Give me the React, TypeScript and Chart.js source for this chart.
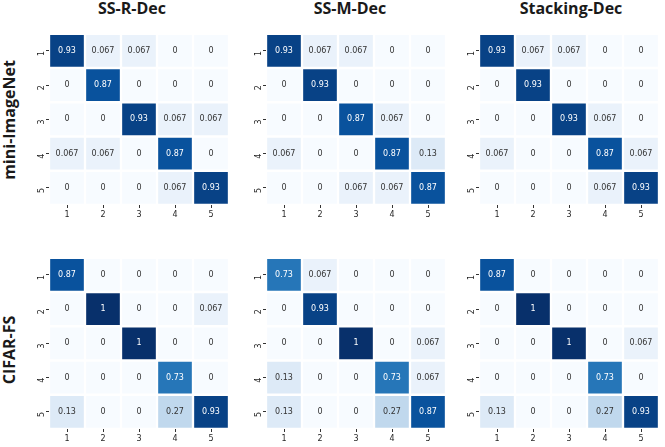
import React, { useEffect, useRef } from "react";
import { Chart, registerables } from "chart.js";

Chart.register(...registerables);

const methods = ["SS-R-Dec", "SS-M-Dec", "Stacking-Dec"];
const datasetsNames = ["mini-ImageNet", "CIFAR-FS"];
const classLabels = ["1", "2", "3", "4", "5"];

const miniSSR = [
  [0.93, 0.067, 0.067, 0, 0],
  [0, 0.87, 0, 0, 0],
  [0, 0, 0.93, 0.067, 0.067],
  [0.067, 0.067, 0, 0.87, 0],
  [0, 0, 0, 0.067, 0.93],
];
const miniSSM = [
  [0.93, 0.067, 0.067, 0, 0],
  [0, 0.93, 0, 0, 0],
  [0, 0, 0.87, 0.067, 0],
  [0.067, 0, 0, 0.87, 0.13],
  [0, 0, 0.067, 0.067, 0.87],
];
const miniStack = [
  [0.93, 0.067, 0.067, 0, 0],
  [0, 0.93, 0, 0, 0],
  [0, 0, 0.93, 0.067, 0],
  [0.067, 0, 0, 0.87, 0.067],
  [0, 0, 0, 0.067, 0.93],
];
const cifarSSR = [
  [0.87, 0, 0, 0, 0],
  [0, 1, 0, 0, 0.067],
  [0, 0, 1, 0, 0],
  [0, 0, 0, 0.73, 0],
  [0.13, 0, 0, 0.27, 0.93],
];
const cifarSSM = [
  [0.73, 0.067, 0, 0, 0],
  [0, 0.93, 0, 0, 0],
  [0, 0, 1, 0, 0.067],
  [0.13, 0, 0, 0.73, 0.067],
  [0.13, 0, 0, 0.27, 0.87],
];
const cifarStack = [
  [0.87, 0, 0, 0, 0],
  [0, 1, 0, 0, 0],
  [0, 0, 1, 0, 0.067],
  [0, 0, 0, 0.73, 0],
  [0.13, 0, 0, 0.27, 0.93],
];

const matrices = [
  [miniSSR, miniSSM, miniStack],
  [cifarSSR, cifarSSM, cifarStack],
];

const BLUES = ["#f7fbff", "#deebf7", "#c6dbef", "#9ecae1", "#6baed6", "#4292c6", "#2171b5", "#08519c", "#08306b"];

function hexToRgb(h: string) {
  return [parseInt(h.slice(1, 3), 16), parseInt(h.slice(3, 5), 16), parseInt(h.slice(5, 7), 16)];
}

function bluesRgb(v: number) {
  const t = Math.max(0, Math.min(1, v)) * 8;
  const i = Math.min(7, Math.floor(t));
  const f = t - i;
  const a = hexToRgb(BLUES[i]);
  const b = hexToRgb(BLUES[i + 1]);
  return a.map((c, k) => Math.round(c + (b[k] - c) * f));
}

function blues(v: number) {
  const [r, g, b] = bluesRgb(v);
  return `rgb(${r},${g},${b})`;
}

function textColor(v: number) {
  const lin = bluesRgb(v).map((c) => {
    const s = c / 255;
    return s <= 0.03928 ? s / 12.92 : Math.pow((s + 0.055) / 1.055, 2.4);
  });
  const lum = 0.2126 * lin[0] + 0.7152 * lin[1] + 0.0722 * lin[2];
  return lum > 0.408 ? "#333333" : "#ffffff";
}

const colLeft = [49, 266, 479];
const rowTop = [25, 249];
const cellSize = 180;
const yAxisW = 25;
const xAxisH = 20;

const annotPlugin = {
  id: "annot",
  afterDatasetsDraw(chart: any) {
    const ctx = chart.ctx;
    ctx.save();
    ctx.font = '8px "DejaVu Sans"';
    ctx.textAlign = "center";
    ctx.textBaseline = "middle";
    chart.data.datasets.forEach((ds: any, di: number) => {
      const meta = chart.getDatasetMeta(di);
      meta.data.forEach((el: any, j: number) => {
        const v = ds.values[j];
        const x = el.x;
        const y = (el.y + el.base) / 2;
        ctx.fillStyle = textColor(v);
        ctx.fillText(String(v), x, y);
      });
    });
    ctx.restore();
  },
};

function Panel({ matrix, left, top }: { matrix: number[][]; left: number; top: number }) {
  const ref = useRef<HTMLCanvasElement>(null);
  useEffect(() => {
    if (!ref.current) return;
    const datasets = matrix.map((row, r) => ({
      label: classLabels[r],
      data: row.map(() => [r, r + 1]),
      values: row,
      backgroundColor: row.map((v) => blues(v)),
      borderColor: "#ffffff",
      borderWidth: 1.5,
      borderSkipped: false,
      grouped: false,
      categoryPercentage: 1,
      barPercentage: 1,
    }));
    const chart = new Chart(ref.current, {
      type: "bar",
      data: { labels: classLabels, datasets: datasets as any },
      options: {
        animation: false,
        responsive: false,
        maintainAspectRatio: false,
        layout: { padding: 0 },
        plugins: { legend: { display: false }, tooltip: { enabled: false }, title: { display: false } },
        scales: {
          x: {
            type: "category",
            offset: true,
            grid: { display: true, drawOnChartArea: false, drawTicks: true, tickLength: 3, offset: false, color: "#333333" },
            border: { display: false },
            ticks: { font: { family: "DejaVu Sans", size: 8 }, color: "#262626", padding: 2, maxRotation: 0, minRotation: 0 },
            afterFit: (s: any) => {
              s.height = xAxisH;
            },
          },
          y: {
            type: "linear",
            min: 0,
            max: 5,
            reverse: true,
            grid: { display: true, drawOnChartArea: false, drawTicks: true, tickLength: 3, color: "#333333" },
            border: { display: false },
            afterBuildTicks: (s: any) => {
              s.ticks = [0.5, 1.5, 2.5, 3.5, 4.5].map((v) => ({ value: v }));
            },
            ticks: {
              font: { family: "DejaVu Sans", size: 8 },
              color: "#262626",
              padding: 4,
              minRotation: 90,
              maxRotation: 90,
              callback: (_v: any, i: number) => classLabels[i],
            },
            afterFit: (s: any) => {
              s.width = yAxisW;
            },
          },
        },
      },
      plugins: [annotPlugin],
    });
    return () => chart.destroy();
  }, [matrix]);
  const w = cellSize + yAxisW;
  const h = cellSize + xAxisH;
  return (
    <canvas
      ref={ref}
      width={w}
      height={h}
      style={{ position: "absolute", left: left - yAxisW, top, width: w, height: h }}
    />
  );
}

const titleX = [132, 350, 571];
const rowLabelY = [120, 350];

export default function App() {
  return (
    <div style={{ position: "absolute", left: 0, top: 0, width: 665, height: 447, background: "#ffffff", overflow: "hidden" }}>
      {methods.map((m, i) => (
        <div
          key={m}
          style={{
            position: "absolute",
            left: titleX[i] - 80,
            width: 160,
            top: -3,
            textAlign: "center",
            fontFamily: '"Open Sans", sans-serif',
            fontWeight: 700,
            fontSize: 16,
            lineHeight: "22px",
            color: "#1a1a1a",
          }}
        >
          {m}
        </div>
      ))}
      {datasetsNames.map((d, i) => (
        <div
          key={d}
          style={{
            position: "absolute",
            left: 9 - 80,
            top: rowLabelY[i] - 11,
            width: 160,
            height: 22,
            lineHeight: "22px",
            textAlign: "center",
            transform: "rotate(-90deg)",
            fontFamily: '"Open Sans", sans-serif',
            fontWeight: 700,
            fontSize: 16,
            color: "#1a1a1a",
          }}
        >
          {d}
        </div>
      ))}
      {matrices.map((row, r) =>
        row.map((mat, c) => <Panel key={`${r}-${c}`} matrix={mat} left={colLeft[c]} top={rowTop[r]} />)
      )}
    </div>
  );
}
